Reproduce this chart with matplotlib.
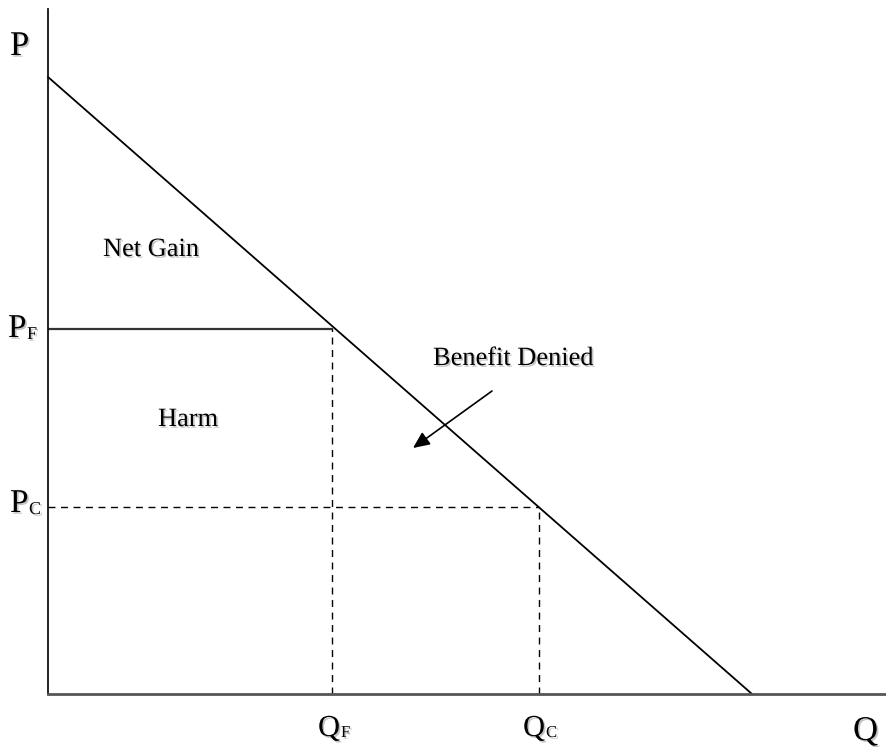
import matplotlib
matplotlib.use("Agg")
import matplotlib.pyplot as plt
import matplotlib.patheffects as pe

# data (arbitrary units)
demand_q = [0.0, 70.4]
demand_p = [61.7, 0.0]
q_f, p_f = 28.4, 36.5
q_c, p_c = 49.1, 18.7
region_labels = ["Net Gain", "Harm", "Benefit Denied"]

W, H = 887, 747
fig = plt.figure(figsize=(W/100, H/100), dpi=100)
ax = fig.add_axes([48/W, 53/H, 839/W, 685/H])
ax.set_xlim(0, 83.9)
ax.set_ylim(0, 68.5)
for s in ["top", "right"]:
    ax.spines[s].set_visible(False)
ax.spines["left"].set_color("#111111")
ax.spines["left"].set_linewidth(1.3)
ax.spines["bottom"].set_color("#555555")
ax.spines["bottom"].set_linewidth(2.0)
ax.set_xticks([]); ax.set_yticks([])

ax.plot(demand_q, demand_p, color="black", lw=1.3, clip_on=False)
ax.plot([0, q_f], [p_f, p_f], color="#333333", lw=1.6)
ax.plot([q_f, q_f], [0, p_f], color="black", lw=1.0, ls=(0, (5, 4)))
ax.plot([0, q_c], [p_c, p_c], color="black", lw=1.0, ls=(0, (5, 4)))
ax.plot([q_c, q_c], [0, p_c], color="black", lw=1.0, ls=(0, (5, 4)))

font = "Liberation Serif"
sh = [pe.SimplePatchShadow(offset=(1.2, -1.2), shadow_rgbFace="#888888", alpha=0.5), pe.Normal()]

def t(x, y, s, size):
    ax.text(x, y, s, fontsize=size, family=font, va="baseline", ha="left",
            clip_on=False, path_effects=sh)

t(-3.8, 63.9, "P", 25)
t(80.5, -4.6, "Q", 25)
t(-4.0, 35.7, "P", 24); t(-2.1, 35.5, "F", 13)
t(-3.8, 18.2, "P", 24); t(-1.9, 18.0, "C", 13)
t(27.0, -4.2, "Q", 22); t(29.3, -4.3, "F", 12)
t(47.5, -4.2, "Q", 22); t(49.8, -4.3, "C", 12)

t(5.5, 43.8, region_labels[0], 19)
t(11.0, 26.8, region_labels[1], 19)
t(38.5, 32.9, region_labels[2], 19)

ax.annotate("", xy=(36.5, 24.6), xytext=(44.4, 30.3),
            arrowprops=dict(arrowstyle="-|>,head_length=1.0,head_width=0.45",
                            color="black", lw=1.2, shrinkA=0, shrinkB=0))

fig.savefig("out.png", dpi=100)
